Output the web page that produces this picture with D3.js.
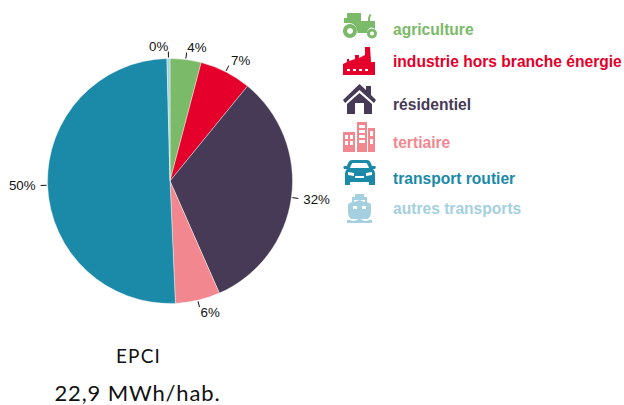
<!DOCTYPE html>
<html>
<head>
<meta charset="utf-8">
<script src="https://cdn.jsdelivr.net/npm/d3@7"></script>
<style>
body { margin: 0; background: #fff; }
svg { display: block; }
</style>
</head>
<body>
<svg id="chart"></svg>
<script>
const categories = ['agriculture', 'industrie hors branche énergie', 'résidentiel', 'tertiaire', 'transport routier', 'autres transports'];
const values = [4.1, 6.8, 32.5, 5.9, 50.3, 0.4];
const labels = ['4%', '7%', '32%', '6%', '50%', '0%'];
const colors = ['#7aba68', '#e4002b', '#463a56', '#f3878f', '#1a8aa8', '#a5d0df'];
const titleLines = ['EPCI', '22,9 MWh/hab.'];

const w = 624, h = 405;
const cx = 170, cy = 181, r = 122.5;

const chart = d3.select('#chart').attr('width', w).attr('height', h);

const pie = d3.pie().sort(null).value(d => d);
const arc = d3.arc().innerRadius(0).outerRadius(r);
const arcs = pie(values);

const g = chart.append('g').attr('transform', `translate(${cx},${cy})`);

g.selectAll('path')
	.data(arcs)
	.enter()
	.append('path')
	.attr('d', arc)
	.style('fill', (d, i) => colors[i])
	.style('stroke', '#fff')
	.style('stroke-width', 0.4);

const mid = d => (d.startAngle + d.endAngle) / 2;

g.selectAll('line')
	.data(arcs)
	.enter()
	.append('line')
	.attr('x1', d => Math.sin(mid(d)) * (r + 1))
	.attr('y1', d => -Math.cos(mid(d)) * (r + 1))
	.attr('x2', d => Math.sin(mid(d)) * (r + 7))
	.attr('y2', d => -Math.cos(mid(d)) * (r + 7))
	.style('stroke', '#111')
	.style('stroke-width', 1);

g.selectAll('text')
	.data(arcs)
	.enter()
	.append('text')
	.attr('x', d => Math.sin(mid(d)) * (r + 12))
	.attr('y', d => -Math.cos(mid(d)) * (r + 10) + 0.35 * 13 - Math.cos(mid(d)) * 2.5)
	.style('text-anchor', d => Math.sin(mid(d)) > 0 ? 'start' : 'end')
	.style('font-family', '"Liberation Sans", Arial, sans-serif')
	.style('font-size', '13.3px')
	.style('fill', '#111')
	.text((d, i) => labels[i]);

// icons, each drawn in its own small box
const icons = [
	'M4 0H18V8H25C25 6 25 3 27 1L28.500 2C27 4 27 6 27 8H32V16C31 15 30 14.500 29 14.500C26 14.500 24 17 24 20H14.500C14.500 14 11 10 6 10H1V5H4Z M7 11A7 7 0 1 1 6.900 11ZM7 15A3 3 0 1 0 7.100 15ZM29 15.500A5 5 0 1 1 28.900 15.500ZM29 18.500A2 2 0 1 0 29.100 18.500Z',
	'M22 0H27L28 15H32V28H0V17L4 15V12H6V14L12 12V8H16V11L22 8ZM4 22V24H7V22ZM10 22V24H13V22ZM16 22V24H19V22ZM22 22V24H25V22Z',
	'M23 2H28V11L33 16L31 19L16.500 6L2 19L0 16L16.500 0L23 6ZM16.500 9L29 20V30H21V19H12V30H4V20Z',
	'M14 0H24V30H14ZM16 3V6H22V3ZM16 8V11H22V8ZM16 13V16H22V13ZM16 18V21H22V18ZM0 10H12V30H0ZM2 13V17H5V13ZM7 13V17H10V13ZM2 19V23H5V19ZM7 19V23H10V19ZM25 6H32V30H25ZM27 9V14H30V9ZM27 17V22H30V17Z',
	'M9 0H24C27 0 28 3 29 6H32C33 6 33 8 32 9H30C32 11 32 13 32 15V25H26V22H7V25H2V15C2 13 2 11 4 9H1C0 8 0 6 2 6H4C5 3 6 0 9 0ZM10 3C9 3 8 5 7 8H26C25 5 24 3 23 3ZM5 12V15L11 16V13ZM29 12L23 13V16L29 15ZM12 16V18H21V16Z',
	'M8 0H17V3H20V8L24 10V18C24 21 23 23 21 25H4C2 23 1 21 1 18V10L5 8V3H8ZM7 6V8L12.500 6L18 8V6ZM6 12V15H10V12ZM15 12V15H19V12ZM0 26C3 25 4 27 6.500 27C9 27 10 25 12.500 25C15 25 16 27 18.500 27C21 27 22 25 25 26V29H0Z'
];
const iconY = [13, 47, 84, 122, 160, 194];
const iconX = [343, 343, 343, 343, 343, 347];
const textY = [34.5, 67, 110, 148, 184, 214];

const legend = chart.append('g');

legend.selectAll('path')
	.data(categories)
	.enter()
	.append('path')
	.attr('d', (d, i) => icons[i])
	.attr('fill-rule', 'evenodd')
	.attr('transform', (d, i) => `translate(${iconX[i]},${iconY[i]})`)
	.style('fill', (d, i) => colors[i]);

legend.selectAll('text')
	.data(categories)
	.enter()
	.append('text')
	.attr('x', 393)
	.attr('y', (d, i) => textY[i])
	.style('font-family', '"Liberation Sans", Arial, sans-serif')
	.style('font-weight', 'bold')
	.style('font-size', '15.6px')
	.style('fill', (d, i) => colors[i])
	.text(d => d);

chart.selectAll('text.title')
	.data(titleLines)
	.enter()
	.append('text')
	.classed('title', true)
	.attr('x', (d, i) => i ? 137.5 : 138.5)
	.attr('y', (d, i) => i ? 401 : 363)
	.style('text-anchor', 'middle')
	.style('font-family', 'Lato, sans-serif')
	.style('font-size', (d, i) => i ? '22px' : '19px')
	.style('letter-spacing', (d, i) => i ? '0.85px' : '1.2px')
	.style('fill', '#111')
	.text(d => d);
</script>
</body>
</html>
